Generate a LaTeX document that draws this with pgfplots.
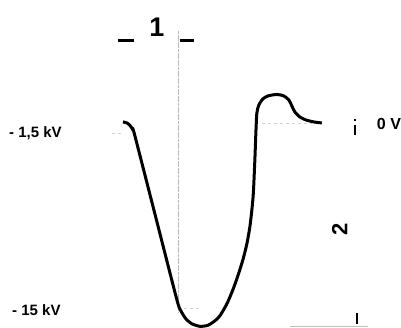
\documentclass[border=0pt]{standalone}
\usepackage{pgfplots}
\pgfplotsset{compat=1.18}
\usepackage{fontspec}
\setmainfont{Liberation Sans}
\begin{document}
\begin{tikzpicture}
\begin{axis}[width=401pt,height=327pt,scale only axis,hide axis,clip=false,
  xmin=0,xmax=401,ymin=0,ymax=327,y dir=reverse]
\path (rel axis cs:0,0) rectangle (rel axis cs:1,1);
% faint guide lines
\addplot[gray!55,line width=0.7pt,dash pattern=on 3pt off 0.6pt] coordinates {(178,31) (178,312)};
\addplot[gray!35,line width=0.6pt,dashed] coordinates {(262,123) (312,123)};
\addplot[gray!35,line width=0.6pt,dashed] coordinates {(112,133) (122,133)};
\addplot[gray!35,line width=0.6pt,dashed] coordinates {(178,308) (200,308)};
\addplot[gray!50,line width=0.7pt] coordinates {(290,326.5) (368,326.5)};
% waveform
\addplot[black,line width=3pt,smooth,tension=0.4] coordinates {
(123,122) (127,123) (130,125.5) (133,130) (135,136) (156,218) (177,300) (181,311) (186,319)
(192,324) (200,326.5) (208,325.5) (215,321) (220,316) (227,304) (233,290)
(238,276) (243,260) (247,244) (250,227) (252,210) (253.5,193) (255,160)
(256,133) (257,113) (259,105) (263,99) (268,96) (277,94.5) (284,96) (289,100)
(292,106) (295,112) (300,117) (306,120) (314,122) (322,123)};
% dimension markers
\addplot[black,line width=3pt] coordinates {(118,41) (134,41)};
\addplot[black,line width=3pt] coordinates {(180,41) (194,41)};
\addplot[black,line width=2.4pt] coordinates {(355,125) (355,135)};
\addplot[black,line width=1.4pt] coordinates {(355,119) (355,121.5)};
\addplot[black,line width=2.4pt] coordinates {(357,313) (357,324)};
% labels
\node[font=\bfseries\fontsize{27}{27}\selectfont] at (axis cs:157,27) {1};
\node[font=\bfseries\fontsize{15}{15}\selectfont,anchor=west,inner sep=0pt] at (axis cs:9,133) {- 1,5 kV};
\node[font=\bfseries\fontsize{15}{15}\selectfont,anchor=west,inner sep=0pt] at (axis cs:12,310) {- 15 kV};
\node[font=\bfseries\fontsize{16}{16}\selectfont,anchor=west,inner sep=0pt] at (axis cs:377,124) {0 V};
\node[font=\bfseries\fontsize{22}{22}\selectfont,rotate=90] at (axis cs:340,230) {2};
\end{axis}
\end{tikzpicture}
\end{document}
